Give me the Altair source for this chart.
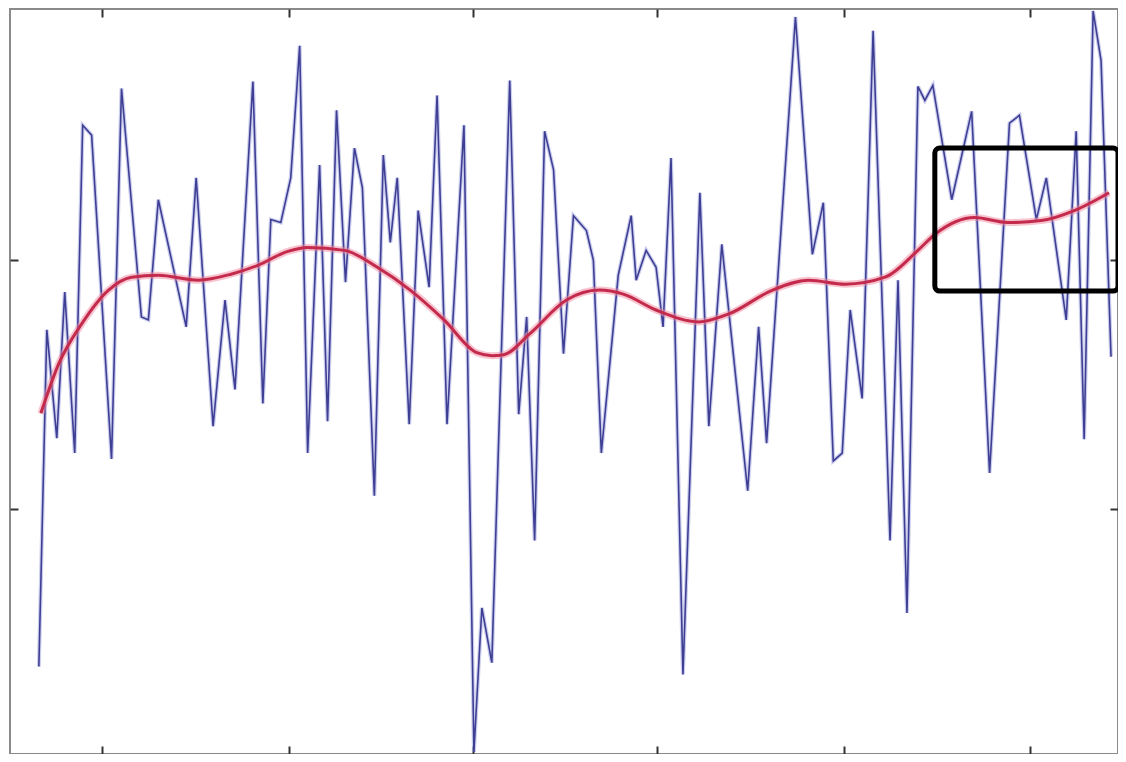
import altair as alt
import pandas as pd

# Noisy signal (blue)
blue_x = [29, 37, 47, 55, 65, 73, 82, 102, 112, 132,
          139, 149, 177, 187, 204, 216, 226, 244, 254, 262,
          272, 282, 291, 299, 311, 319, 328, 337, 346, 354,
          366, 375, 382, 389, 401, 410, 421, 429, 439, 456,
          466, 474, 484, 502, 511, 519, 527, 537, 546, 556,
          566, 579, 586, 594, 611, 624, 629, 639, 649, 656,
          664, 676, 693, 702, 715, 741, 752, 760, 789, 806,
          817, 827, 836, 844, 856, 867, 884, 892, 901, 912,
          919, 927, 946, 966, 984, 1004, 1014, 1031, 1041, 1061,
          1071, 1079, 1088, 1096, 1106]
blue_y = [88, 427, 318, 465, 303, 633, 623, 297, 670, 440,
          437, 558, 430, 580, 330, 457, 367, 677, 353, 538,
          535, 580, 713, 303, 593, 335, 648, 475, 610, 570,
          260, 603, 515, 580, 332, 547, 470, 663, 332, 633,
          2, 147, 92, 678, 342, 440, 215, 627, 588, 403,
          542, 527, 497, 303, 482, 542, 477, 507, 490, 430,
          600, 80, 565, 330, 513, 265, 430, 313, 742, 503,
          555, 295, 303, 447, 358, 728, 215, 477, 142, 672,
          658, 673, 558, 647, 283, 635, 643, 538, 580, 437,
          627, 317, 748, 698, 400]

# Smoothed trend (red)
red_x = [31, 49, 72, 99, 122, 149, 189, 222, 249, 279,
         299, 336, 369, 402, 436, 469, 484, 496, 522, 559,
         592, 616, 649, 692, 722, 766, 802, 839, 879, 912,
         929, 969, 1002, 1036, 1069, 1104]
red_y = [343, 393, 433, 467, 480, 482, 477, 483, 492, 506,
         510, 507, 490, 467, 437, 404, 401, 402, 423, 457,
         467, 463, 447, 435, 443, 467, 477, 473, 480, 507,
         523, 540, 535, 537, 547, 565]

x_ticks = [92, 280, 465, 650, 838, 1025]
y_ticks = [247, 497]

box_x = [929, 1113]
box_y = [466, 610]

df_blue = pd.DataFrame({"x": blue_x, "y": blue_y})
df_red = pd.DataFrame({"x": red_x, "y": red_y})
df_box = pd.DataFrame({"x1": [box_x[0]], "x2": [box_x[1]], "y1": [box_y[0]], "y2": [box_y[1]]})

xs = alt.Scale(domain=[0, 1113], nice=False, zero=False)
ys = alt.Scale(domain=[0, 750], nice=False, zero=False)


def ax(orient, vals):
    return alt.Axis(orient=orient, values=vals, labels=False, title=None,
                    domain=False, grid=False, ticks=True, tickSize=8,
                    tickWidth=2, tickColor="#333333", offset=-8)


blue_halo = alt.Chart(df_blue).mark_line(color="#8f94d8", strokeWidth=4,
                                         opacity=0.45).encode(
    x=alt.X("x:Q", scale=xs, axis=ax("bottom", x_ticks)),
    y=alt.Y("y:Q", scale=ys, axis=ax("left", y_ticks)),
)

blue = alt.Chart(df_blue).mark_line(color="#3e3e94", strokeWidth=1.6).encode(
    x=alt.X("x:Q", scale=xs, axis=None),
    y=alt.Y("y:Q", scale=ys, axis=None),
)

red_halo = alt.Chart(df_red).mark_line(color="#f08aa0", strokeWidth=7, opacity=0.5,
                                       interpolate="monotone").encode(
    x=alt.X("x:Q", scale=xs, axis=ax("top", x_ticks)),
    y=alt.Y("y:Q", scale=ys, axis=ax("right", y_ticks)),
)

red = alt.Chart(df_red).mark_line(color="#c42a4c", strokeWidth=3,
                                  interpolate="monotone").encode(
    x=alt.X("x:Q", scale=xs, axis=None),
    y=alt.Y("y:Q", scale=ys, axis=None),
)

box = alt.Chart(df_box).mark_rect(fillOpacity=0, stroke="black", strokeWidth=5,
                                  cornerRadius=5, clip=False).encode(
    x=alt.X("x1:Q", scale=xs, axis=None),
    x2="x2:Q",
    y=alt.Y("y1:Q", scale=ys, axis=None),
    y2="y2:Q",
)

chart = alt.layer(blue_halo, blue, red_halo, red, box).resolve_axis(
    x="independent", y="independent"
).properties(
    width=1108, height=745,
    autosize=alt.AutoSizeParams(type="none"),
    padding={"left": 2, "top": 1, "right": 0, "bottom": 0},
    background="white",
).configure_view(stroke="#8a8a8a", strokeWidth=2)

chart.save("out.html", embed_options={"renderer": "svg", "actions": False})
